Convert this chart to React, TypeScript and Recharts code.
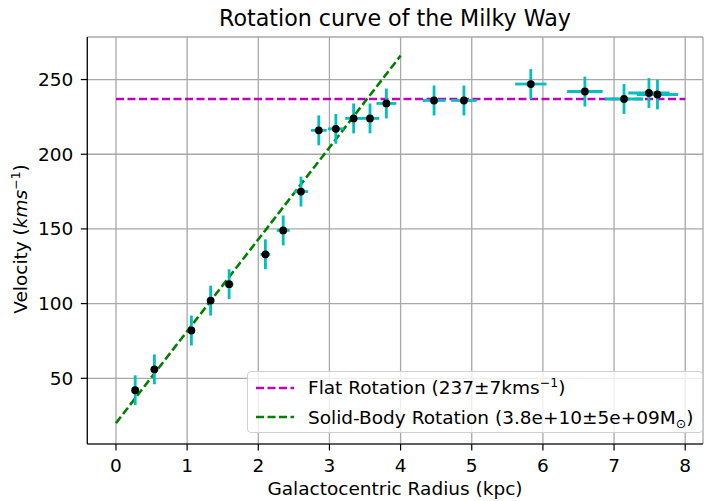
import React from "react";
import {
  ComposedChart,
  Scatter,
  Line,
  XAxis,
  YAxis,
  CartesianGrid,
  ErrorBar
} from "recharts";

// measured rotation curve
const radius = [0.27, 0.54, 1.06, 1.33, 1.59, 2.1, 2.35, 2.6, 2.85, 3.09, 3.34, 3.57, 3.8, 4.47, 4.89, 5.83, 6.59, 7.14, 7.49, 7.61];
const velocity = [42, 56, 82, 102, 113, 133, 149, 175, 216, 217, 224, 224, 234, 236, 236, 247, 242, 237, 241, 240];
const radiusErr = [0.01, 0.02, 0.04, 0.05, 0.06, 0.07, 0.09, 0.1, 0.11, 0.11, 0.12, 0.13, 0.14, 0.16, 0.18, 0.22, 0.25, 0.27, 0.29, 0.29];
const velocityErr = [10, 10, 10, 10, 10, 10, 10, 10, 10, 10, 10, 10, 10, 10, 10, 10, 10, 10, 10, 10];

// fitted models
const flatRadius = [0, 8];
const flatVelocity = [237, 237];
const solidRadius = [0, 4];
const solidVelocity = [20, 266];

const xTicks = [0, 1, 2, 3, 4, 5, 6, 7, 8];
const yTicks = [50, 100, 150, 200, 250];

const points = radius.map((r, i) => ({
  r,
  v: velocity[i],
  ex: radiusErr[i],
  ey: velocityErr[i]
}));
const flatLine = flatRadius.map((r, i) => ({ r, v: flatVelocity[i] }));
const solidLine = solidRadius.map((r, i) => ({ r, v: solidVelocity[i] }));

const FONT = "DejaVu Sans";
const FS = 18.5;
const MAGENTA = "#bf00bf";
const GREEN = "#008000";
const CYAN = "#00bfbf";

const tickStyle = { fill: "#000", fontSize: FS, fontFamily: FONT };

function Dot(props: any) {
  const { cx, cy } = props;
  if (cx == null || cy == null) return null;
  return <circle cx={cx} cy={cy} r={3.9} fill="#000" />;
}

function LegendBox() {
  const row = (color: string, label: React.ReactNode) => (
    <div style={{ display: "flex", alignItems: "center", height: 29.5, whiteSpace: "nowrap" }}>
      <svg width={52} height={10} style={{ marginLeft: 8, flex: "none" }}>
        <line x1={0} y1={5} x2={38} y2={5} stroke={color} strokeWidth={2.6} strokeDasharray="8 3.5" />
      </svg>
      <span>{label}</span>
    </div>
  );
  return (
    <div
      style={{
        position: "absolute",
        left: 247,
        top: 371,
        width: 456,
        height: 62,
        background: "rgba(255,255,255,0.8)",
        border: "1px solid #d0d0d0",
        borderRadius: 4,
        padding: "1px 0",
        fontFamily: FONT,
        fontSize: FS,
        color: "#000",
        boxSizing: "border-box",
        zIndex: 3
      }}
    >
      {row(MAGENTA, <>Flat Rotation (237±7kms<sup style={{ fontSize: 12.5, verticalAlign: 7, lineHeight: 0 }}>−1</sup>)</>)}
      {row(GREEN, <>Solid-Body Rotation (3.8e+10±5e+09M<sub style={{ fontSize: 12.5, verticalAlign: -4, lineHeight: 0 }}>⊙</sub>)</>)}
    </div>
  );
}

export default function App() {
  return (
    <div style={{ position: "absolute", left: 0, top: 0, width: 704, height: 501, background: "#fff" }}>
      <svg width={704} height={501} style={{ position: "absolute", left: 0, top: 0, pointerEvents: "none", zIndex: 2 }}>
        <text x={395} y={26} textAnchor="middle" fontFamily={FONT} fontSize={22.2}>
          Rotation curve of the Milky Way
        </text>
        <text x={395} y={495} textAnchor="middle" fontFamily={FONT} fontSize={FS}>
          Galactocentric Radius (kpc)
        </text>
        <text transform="translate(27,239) rotate(-90)" textAnchor="middle" fontFamily={FONT} fontSize={FS}>
          Velocity (<tspan fontStyle="italic">kms</tspan>
          <tspan fontSize={12.5} dy={-7.5}>−1</tspan>
          <tspan dy={7.5}>)</tspan>
        </text>
      </svg>
      <ComposedChart
        width={704}
        height={501}
        margin={{ top: 37, right: 1, bottom: 0, left: 28.3 }}
      >
        <CartesianGrid stroke="#a8a8a8" strokeWidth={1.3} horizontal vertical />
        <XAxis
          xAxisId={0}
          type="number"
          dataKey="r"
          domain={[-0.403, 8.25]}
          ticks={xTicks}
          allowDataOverflow
          height={57}
          tick={tickStyle}
          tickSize={6.5}
          tickMargin={8.5}
          stroke="#000"
          strokeWidth={1.2}
        />
        <XAxis
          xAxisId="top"
          orientation="top"
          type="number"
          domain={[-0.403, 8.25]}
          ticks={xTicks}
          tick={false}
          tickLine={false}
          height={0}
          stroke="#000"
          strokeWidth={1.2}
        />
        <YAxis
          yAxisId={0}
          type="number"
          domain={[6, 278.5]}
          ticks={yTicks}
          allowDataOverflow
          width={59}
          tick={tickStyle}
          tickSize={6.5}
          tickMargin={7.5}
          stroke="#000"
          strokeWidth={1.2}
        />
        <YAxis
          yAxisId="right"
          orientation="right"
          type="number"
          domain={[6, 278.5]}
          tick={false}
          tickLine={false}
          width={0}
          stroke="#000"
          strokeWidth={1.2}
        />
        <Line
          data={flatLine}
          dataKey="v"
          stroke={MAGENTA}
          strokeWidth={2.6}
          strokeDasharray="8 3.5"
          dot={false}
          activeDot={false}
          isAnimationActive={false}
          legendType="none"
        />
        <Line
          data={solidLine}
          dataKey="v"
          stroke={GREEN}
          strokeWidth={2.6}
          strokeDasharray="8 3.5"
          dot={false}
          activeDot={false}
          isAnimationActive={false}
          legendType="none"
        />
        <Scatter data={points} dataKey="v" shape={<Dot />} isAnimationActive={false} legendType="none">
          <ErrorBar dataKey="ey" direction="y" width={0} stroke={CYAN} strokeWidth={2.8} isAnimationActive={false} />
          <ErrorBar dataKey="ex" direction="x" width={0} stroke={CYAN} strokeWidth={2.8} isAnimationActive={false} />
        </Scatter>
      </ComposedChart>
      <LegendBox />
    </div>
  );
}
